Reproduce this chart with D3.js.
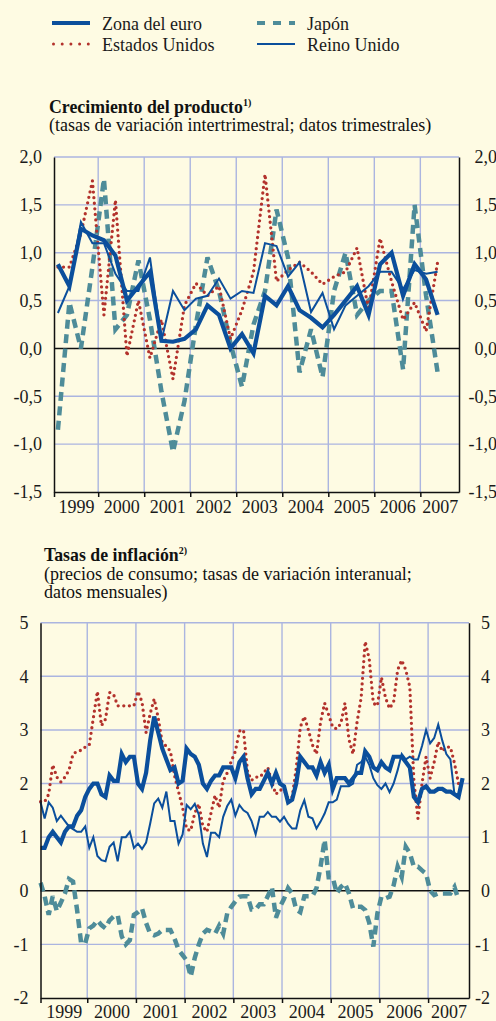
<!DOCTYPE html>
<html>
<head>
<meta charset="utf-8">
<style>
  body { margin: 0; background: #fefbe3; }
  svg { display: block; font-family: "Liberation Serif", "Times New Roman", serif; }
  .tick text { font-size: 18px; fill: #1a1a1a; font-family: "Liberation Serif", serif; }
  .legend text { font-size: 18px; fill: #1a1a1a; }
</style>
</head>
<body>
<svg width="496" height="1021"></svg>
<script src="https://cdnjs.cloudflare.com/ajax/libs/d3/7.8.5/d3.min.js"></script>
<script>

// ---- data: output growth, quarterly 1999Q1 - 2007Q2
var gdpEuro  = [0.88,0.65,1.25,1.18, 1.13,0.97,0.50,0.65, 0.80,0.08,0.07,0.10, 0.20,0.45,0.35,0.00,
                0.15,-0.05,0.55,0.45, 0.65,0.40,0.32,0.22, 0.35,0.50,0.65,0.35, 0.88,1.00,0.55,0.88, 0.72,0.35];
var gdpUS    = [0.85,0.85,1.20,1.75, 0.35,1.55,-0.08,0.50, -0.10,0.30,-0.32,0.45, 0.68,0.55,0.65,0.10,
                0.40,0.80,1.82,0.70, 0.82,0.90,0.80,0.67, 0.75,0.80,1.05,0.40, 1.15,0.70,0.30,0.48, 0.18,0.90];
var gdpJapan = [-0.85,0.48,0.00,0.85, 1.77,0.20,0.35,0.92, 0.30,-0.45,-1.08,-0.55, 0.25,0.95,0.60,0.05,
                -0.40,0.25,0.60,1.45, 0.95,-0.25,0.20,-0.30, 0.60,1.00,0.35,0.50, 0.60,0.60,-0.22,1.50, 0.55,-0.25];
var gdpUK    = [0.37,0.65,1.32,1.10, 1.10,0.78,0.60,0.60, 0.95,0.08,0.60,0.40, 0.52,0.55,0.73,0.52,
                0.60,0.58,1.10,1.07, 0.75,0.90,0.38,0.58, 0.20,0.45,0.55,0.65, 0.80,0.80,0.62,0.82, 0.78,0.80];

// ---- data: consumer price inflation, monthly from Jan 1999
var infEuro  = [0.8,0.8,1.0,1.1,1.0,0.9,1.1,1.2,1.2,1.4,1.5,1.75,
                1.9,2.0,2.0,1.8,1.75,2.15,2.05,2.05,2.55,2.4,2.5,2.5,
                2.0,1.9,2.2,2.8,3.25,2.95,2.65,2.45,2.25,2.3,2.0,2.05,
                2.65,2.55,2.5,2.35,2.0,1.9,2.05,2.15,2.15,2.3,2.3,2.3,
                2.1,2.4,2.5,2.1,1.8,1.9,1.9,2.05,2.2,2.0,2.2,2.0,
                1.95,1.65,1.7,2.0,2.5,2.4,2.3,2.3,2.15,2.4,2.2,2.35,
                1.9,2.1,2.1,2.1,2.0,2.1,2.2,2.2,2.6,2.5,2.3,2.25,
                2.4,2.3,2.25,2.5,2.5,2.5,2.4,2.3,1.75,1.65,1.9,1.95,
                1.85,1.85,1.9,1.9,1.85,1.85,1.8,1.75,2.1];
var infUS    = [1.66,1.66,1.8,2.35,2.12,2.03,2.12,2.25,2.55,2.6,2.62,2.68,
                2.72,3.22,3.72,3.08,3.2,3.7,3.66,3.45,3.45,3.45,3.45,3.45,
                3.72,3.52,2.95,3.3,3.58,3.22,2.75,2.7,2.6,2.15,1.85,1.55,
                1.15,1.12,1.45,1.62,1.2,1.1,1.45,1.78,1.55,2.05,2.2,2.42,
                2.6,2.98,3.0,2.22,2.06,2.12,2.12,2.2,2.3,2.02,1.8,1.88,
                1.88,1.72,1.75,2.28,3.05,3.25,3.0,2.72,2.55,3.15,3.5,3.28,
                3.05,3.02,3.12,3.5,2.82,2.55,3.15,3.6,4.65,4.32,3.5,3.45,
                3.98,3.6,3.4,3.52,4.12,4.3,4.12,3.8,2.05,1.35,2.0,2.5,
                2.1,2.4,2.78,2.6,2.68,2.68,2.38,2.0];
var infJapan = [0.15,-0.1,-0.45,-0.1,-0.38,-0.22,-0.05,0.22,0.17,-0.36,-0.98,-0.98,
                -0.7,-0.65,-0.55,-0.64,-0.7,-0.55,-0.48,-0.45,-0.85,-1.0,-0.92,-0.45,
                -0.4,-0.33,-0.6,-0.8,-0.83,-0.8,-0.73,-0.73,-0.73,-0.89,-1.1,-1.2,
                -1.3,-1.6,-1.25,-1.0,-0.8,-0.73,-0.76,-0.8,-0.65,-0.8,-0.42,-0.3,
                -0.2,-0.11,-0.1,-0.1,-0.35,-0.35,-0.25,-0.25,-0.1,0.07,-0.5,-0.3,
                -0.15,0.05,-0.05,-0.35,-0.4,-0.1,-0.1,-0.1,0.05,0.45,0.95,0.25,
                0.25,-0.05,0.07,0.14,-0.05,-0.33,-0.3,-0.3,-0.36,-0.6,-1.04,-0.42,
                -0.11,-0.14,-0.11,0.1,0.45,0.26,0.82,0.7,0.45,0.45,0.38,0.32,
                0.0,-0.08,-0.05,-0.05,-0.05,-0.05,0.07,-0.17];
var infUK    = [1.65,1.35,1.65,1.55,1.3,1.4,1.3,1.2,1.15,1.1,1.1,1.2,
                0.8,1.0,0.65,0.57,0.55,0.82,0.9,0.55,1.0,1.0,1.1,0.8,
                0.88,0.78,0.9,1.25,1.63,1.72,1.55,1.85,1.3,1.3,0.88,1.05,
                1.6,1.52,1.62,1.42,0.88,0.63,1.08,1.08,1.0,1.38,1.58,1.7,
                1.4,1.6,1.5,1.45,1.3,1.05,1.38,1.38,1.47,1.38,1.38,1.29,
                1.38,1.25,1.16,1.16,1.5,1.69,1.38,1.35,1.16,1.29,1.44,1.65,
                1.65,1.7,1.95,1.95,1.95,2.0,2.35,2.4,2.5,2.35,2.1,1.97,
                1.9,2.0,1.84,2.0,2.25,2.55,2.45,2.5,2.45,2.45,2.7,3.0,
                2.75,2.85,3.1,2.8,2.55,2.45,1.8,1.8];

var years = [1999,2000,2001,2002,2003,2004,2005,2006,2007];
var gdpTicks = [-1.5,-1.0,-0.5,0,0.5,1.0,1.5,2.0];
var infTicks = [-2,-1,0,1,2,3,4,5];

var xStart = 1999.04, xEnd = 2007.84;

var colEuro = "#0b4f9c", colUS = "#b3322c", colJapan = "#4e8c99", colGrid = "#abb5e0";

var svg = d3.select("svg");
svg.append("rect").attr("width", 496).attr("height", 1021).attr("fill", "#fefbe3");

var loc = d3.formatLocale({decimal: ",", thousands: ".", grouping: [3], currency: ["", "€"], minus: "-"});

// series styles
var styles = {
  japan: {stroke: colJapan, width: 4.5, dash: "9,5.5", cap: "butt"},
  us:    {stroke: colUS, width: 3.3, dash: "0,5.6", cap: "round"},
  uk:    {stroke: colEuro, width: 2, dash: null, cap: "butt"},
  euro:  {stroke: colEuro, width: 4.2, dash: null, cap: "butt"}
};

function styleLine(sel, s) {
  sel.attr("fill", "none")
    .attr("stroke", s.stroke)
    .attr("stroke-width", s.width)
    .attr("stroke-linecap", s.cap)
    .attr("stroke-dasharray", s.dash);
}

function panel(o) {
  var x = d3.scaleLinear().domain([xStart, xEnd]).range([o.left, o.right]);
  var y = d3.scaleLinear().domain([o.ticks[0], o.ticks[o.ticks.length - 1]]).range([o.bottom, o.top]);
  var g = svg.append("g");

  // grid
  g.selectAll(".hg").data(o.ticks.filter(function(d) { return d !== 0 && d !== o.ticks[0]; }))
    .enter().append("line")
      .attr("x1", o.left).attr("x2", o.right)
      .attr("y1", y).attr("y2", y)
      .attr("stroke", colGrid).attr("stroke-width", 1.4);
  g.selectAll(".vg").data(years.slice(1))
    .enter().append("line")
      .attr("x1", x).attr("x2", x)
      .attr("y1", o.top).attr("y2", o.bottom)
      .attr("stroke", colGrid).attr("stroke-width", 1.4);

  g.append("line")
    .attr("x1", o.left).attr("x2", o.right)
    .attr("y1", y(0)).attr("y2", y(0))
    .attr("stroke", "#111").attr("stroke-width", 1.5);

  // series
  var line = d3.line()
    .x(function(d, i) { return x(o.pos(i)); })
    .y(function(d) { return y(d); });

  [["japan", o.japan], ["us", o.us], ["uk", o.uk], ["euro", o.euro]].forEach(function(s) {
    g.append("path").datum(s[1]).attr("d", line).call(styleLine, styles[s[0]]);
  });

  // axes
  var yf = function(d) { return o.dec ? loc.format(".1f")(d) : loc.format("d")(d); };
  var left = g.append("g").attr("transform", "translate(" + o.left + ",0)")
    .call(d3.axisLeft(y).tickValues(o.ticks).tickSize(0).tickPadding(12).tickFormat(yf));
  var right = g.append("g").attr("transform", "translate(" + o.right + ",0)")
    .call(d3.axisRight(y).tickValues(o.ticks).tickSize(0).tickFormat(yf));
  right.selectAll("text").attr("text-anchor", "end").attr("x", o.rightLabel - o.right);
  [left, right].forEach(function(a) {
    a.select(".domain").attr("stroke", "#111").attr("stroke-width", 1.5);
  });

  var bottom = g.append("g").attr("transform", "translate(0," + o.bottom + ")")
    .call(d3.axisBottom(x).tickValues([xStart].concat(years.slice(1))).tickSize(5).tickSizeOuter(0).tickFormat(""));
  bottom.select(".domain").attr("stroke", "#111").attr("stroke-width", 1.5);
  bottom.selectAll(".tick line").attr("stroke", "#111").attr("stroke-width", 1.5);

  var centers = years.map(function(yr) {
    return (Math.max(yr, xStart) + Math.min(yr + 1, xEnd)) / 2;
  });
  var lab = g.append("g").attr("transform", "translate(0," + o.bottom + ")")
    .call(d3.axisBottom(x).tickValues(centers).tickSize(0).tickPadding(o.yearPad)
      .tickFormat(function(d, i) { return years[i]; }));
  lab.select(".domain").remove();
}

// ---- legend
var leg = svg.append("g").attr("class", "legend");
var legItems = [
  {key: "euro", label: "Zona del euro", x: 52, y: 23},
  {key: "us", label: "Estados Unidos", x: 52, y: 44},
  {key: "japan", label: "Japón", x: 257, y: 23},
  {key: "uk", label: "Reino Unido", x: 257, y: 44}
];
legItems.forEach(function(d) {
  var s = styles[d.key];
  var ln = leg.append("line")
    .attr("x1", d.key === "us" ? d.x + 1.5 : d.x).attr("x2", d.x + 38)
    .attr("y1", d.y).attr("y2", d.y)
    .call(styleLine, s);
  if (d.key === "japan") ln.attr("stroke-dasharray", "8,8").attr("stroke-width", 4);
  if (d.key === "us") ln.attr("stroke-dasharray", "0,8.7").attr("stroke-width", 3);
  leg.append("text").attr("x", d.x + 50).attr("y", d.y + 7).text(d.label);
});

// ---- titles
function title(x, y, main, note, subs) {
  var t = svg.append("text").attr("x", x).attr("y", y)
    .style("font-size", "17.8px").style("font-weight", "bold").attr("fill", "#111");
  t.append("tspan").text(main);
  t.append("tspan").attr("dy", -7).style("font-size", "10px").text(note);
  subs.forEach(function(s) {
    svg.append("text").attr("x", x).attr("y", s[1])
      .style("font-size", "18px").attr("fill", "#111").text(s[0]);
  });
}

title(49, 113, "Crecimiento del producto", "1)",
  [["(tasas de variación intertrimestral; datos trimestrales)", 131]]);
title(44, 561, "Tasas de inflación", "2)",
  [["(precios de consumo; tasas de variación interanual;", 580], ["datos mensuales)", 598]]);

// ---- panels
panel({
  left: 54, right: 459, top: 157, bottom: 492, rightLabel: 497,
  ticks: gdpTicks, dec: true, yearPad: 8,
  pos: function(i) { return 1999 + (i + 0.5) / 4; },
  euro: gdpEuro, us: gdpUS, japan: gdpJapan, uk: gdpUK
});

panel({
  left: 40.5, right: 469, top: 622.7, bottom: 998, rightLabel: 490,
  ticks: infTicks, dec: false, yearPad: 7,
  pos: function(i) { return 1999 + (i + 0.5) / 12; },
  euro: infEuro, us: infUS, japan: infJapan, uk: infUK
});

</script>
</body>
</html>
